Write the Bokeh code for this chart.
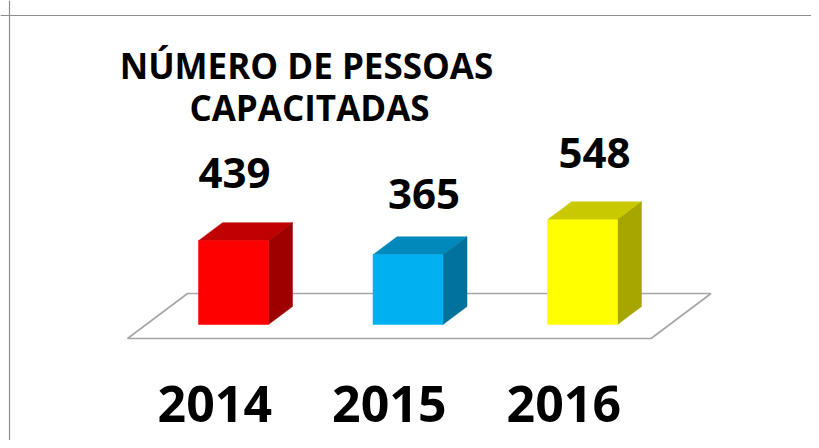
from bokeh.plotting import figure
from bokeh.models import Range1d, Span, Label, ColumnDataSource
from bokeh.core.properties import value
from bokeh.embed import file_html
from bokeh.resources import INLINE

# ---- data ----
years = ["2014", "2015", "2016"]
people = [439, 365, 548]
title_lines = ["NÚMERO DE PESSOAS", "CAPACITADAS"]

# ---- styles ----
front_colors = ["#FF0000", "#00B0F0", "#FFFF00"]
top_colors = ["#C00000", "#0089BA", "#C9C900"]
side_colors = ["#9E0000", "#00729C", "#A6A600"]
FONT_NAME = "Open Sans"
FONT = value(FONT_NAME)
VAL_SIZE, CAT_SIZE, TITLE_SIZE = 42, 50, 35
BASE_FIX = 0.42   # renderer places alphabetic baseline ~0.42em low

# ---- layout (pixels) ----
FIG_W, FIG_H = 811, 440
X0_PX, X_STEP = 233.0, 174.5      # px of first category, px per category
Y0_PX, Y_SCALE = 324.0, 0.191     # px (from top) of value 0, px per unit

def dx(px):
    return px / X_STEP

def dy(px):
    return px / Y_SCALE

def fx(px):
    return (px - X0_PX) / X_STEP

def fy(px):
    return (Y0_PX - px) / Y_SCALE

x_range = Range1d(-X0_PX / X_STEP, (FIG_W - X0_PX) / X_STEP)
y_range = Range1d(-(FIG_H - Y0_PX) / Y_SCALE, Y0_PX / Y_SCALE)

p = figure(width=FIG_W, height=FIG_H, output_backend="svg", toolbar_location=None,
           x_range=x_range, y_range=y_range, min_border=0)
p.axis.visible = False
p.grid.visible = False
p.outline_line_color = None
p.background_fill_color = "white"
p.border_fill_color = "white"

# chart border (top and left)
border = "#8C8C8C"
p.add_layout(Span(location=fy(15), dimension="width", line_color=border, line_width=1.2))
p.add_layout(Span(location=fx(9), dimension="height", line_color=border, line_width=1.2))

n = len(years)
xs = list(range(n))

# depth geometry
BAR_HALF = dx(35)
DEP_X, DEP_Y = dx(24), dy(18)          # bar depth
FL_FX, FL_FY = dx(-18.7), dy(-14)      # floor front offset
FL_BX, FL_BY = dx(41.3), dy(31)        # floor back offset

# floor
fl, fr = -0.5, n - 0.5
p.patch([fl + FL_FX, fr + FL_FX, fr + FL_BX, fl + FL_BX],
        [FL_FY, FL_FY, FL_BY, FL_BY],
        fill_color="white", line_color="#A6A6A6", line_width=1.6)

# bars
lefts = [x - BAR_HALF for x in xs]
rights = [x + BAR_HALF for x in xs]
top_xs = [[l, r, r + DEP_X, l + DEP_X] for l, r in zip(lefts, rights)]
top_ys = [[v, v, v + DEP_Y, v + DEP_Y] for v in people]
side_xs = [[r, r + DEP_X, r + DEP_X, r] for r in rights]
side_ys = [[0, DEP_Y, v + DEP_Y, v] for v in people]

p.patches(top_xs, top_ys, fill_color=top_colors, line_color=top_colors, line_width=0.5)
p.patches(side_xs, side_ys, fill_color=side_colors, line_color=side_colors, line_width=0.5)
p.quad(left=lefts, right=rights, bottom=0, top=people,
       fill_color=front_colors, line_color=front_colors, line_width=0.5)

# value labels
nudge_x = [1, 16, 12]
nudge_y = [50, 43, 49]
lab = ColumnDataSource(dict(
    x=[x + dx(nx) for x, nx in zip(xs, nudge_x)],
    y=[v + dy(ny + BASE_FIX * VAL_SIZE) for v, ny in zip(people, nudge_y)],
    t=[str(v) for v in people]))
p.text(x="x", y="y", text="t", source=lab, text_font=FONT, text_font_style="bold",
       text_font_size=f"{VAL_SIZE}px", text_align="center", text_baseline="alphabetic",
       text_color="black")

# category labels
cat = ColumnDataSource(dict(x=[x + FL_FX for x in xs],
                            y=[fy(424 - BASE_FIX * CAT_SIZE)] * n, t=years))
p.text(x="x", y="y", text="t", source=cat, text_font=FONT, text_font_style="bold",
       text_font_size=f"{CAT_SIZE}px", text_align="center", text_baseline="alphabetic",
       text_color="black")

# title
for line, cx, base in zip(title_lines, [306, 309], [80, 122]):
    p.add_layout(Label(x=fx(cx), y=fy(base - BASE_FIX * TITLE_SIZE), text=line,
                       text_font=FONT_NAME, text_font_style="bold",
                       text_font_size=f"{TITLE_SIZE}px", text_align="center",
                       text_baseline="alphabetic", text_color="black"))

open("out.html", "w").write(file_html(p, INLINE))
